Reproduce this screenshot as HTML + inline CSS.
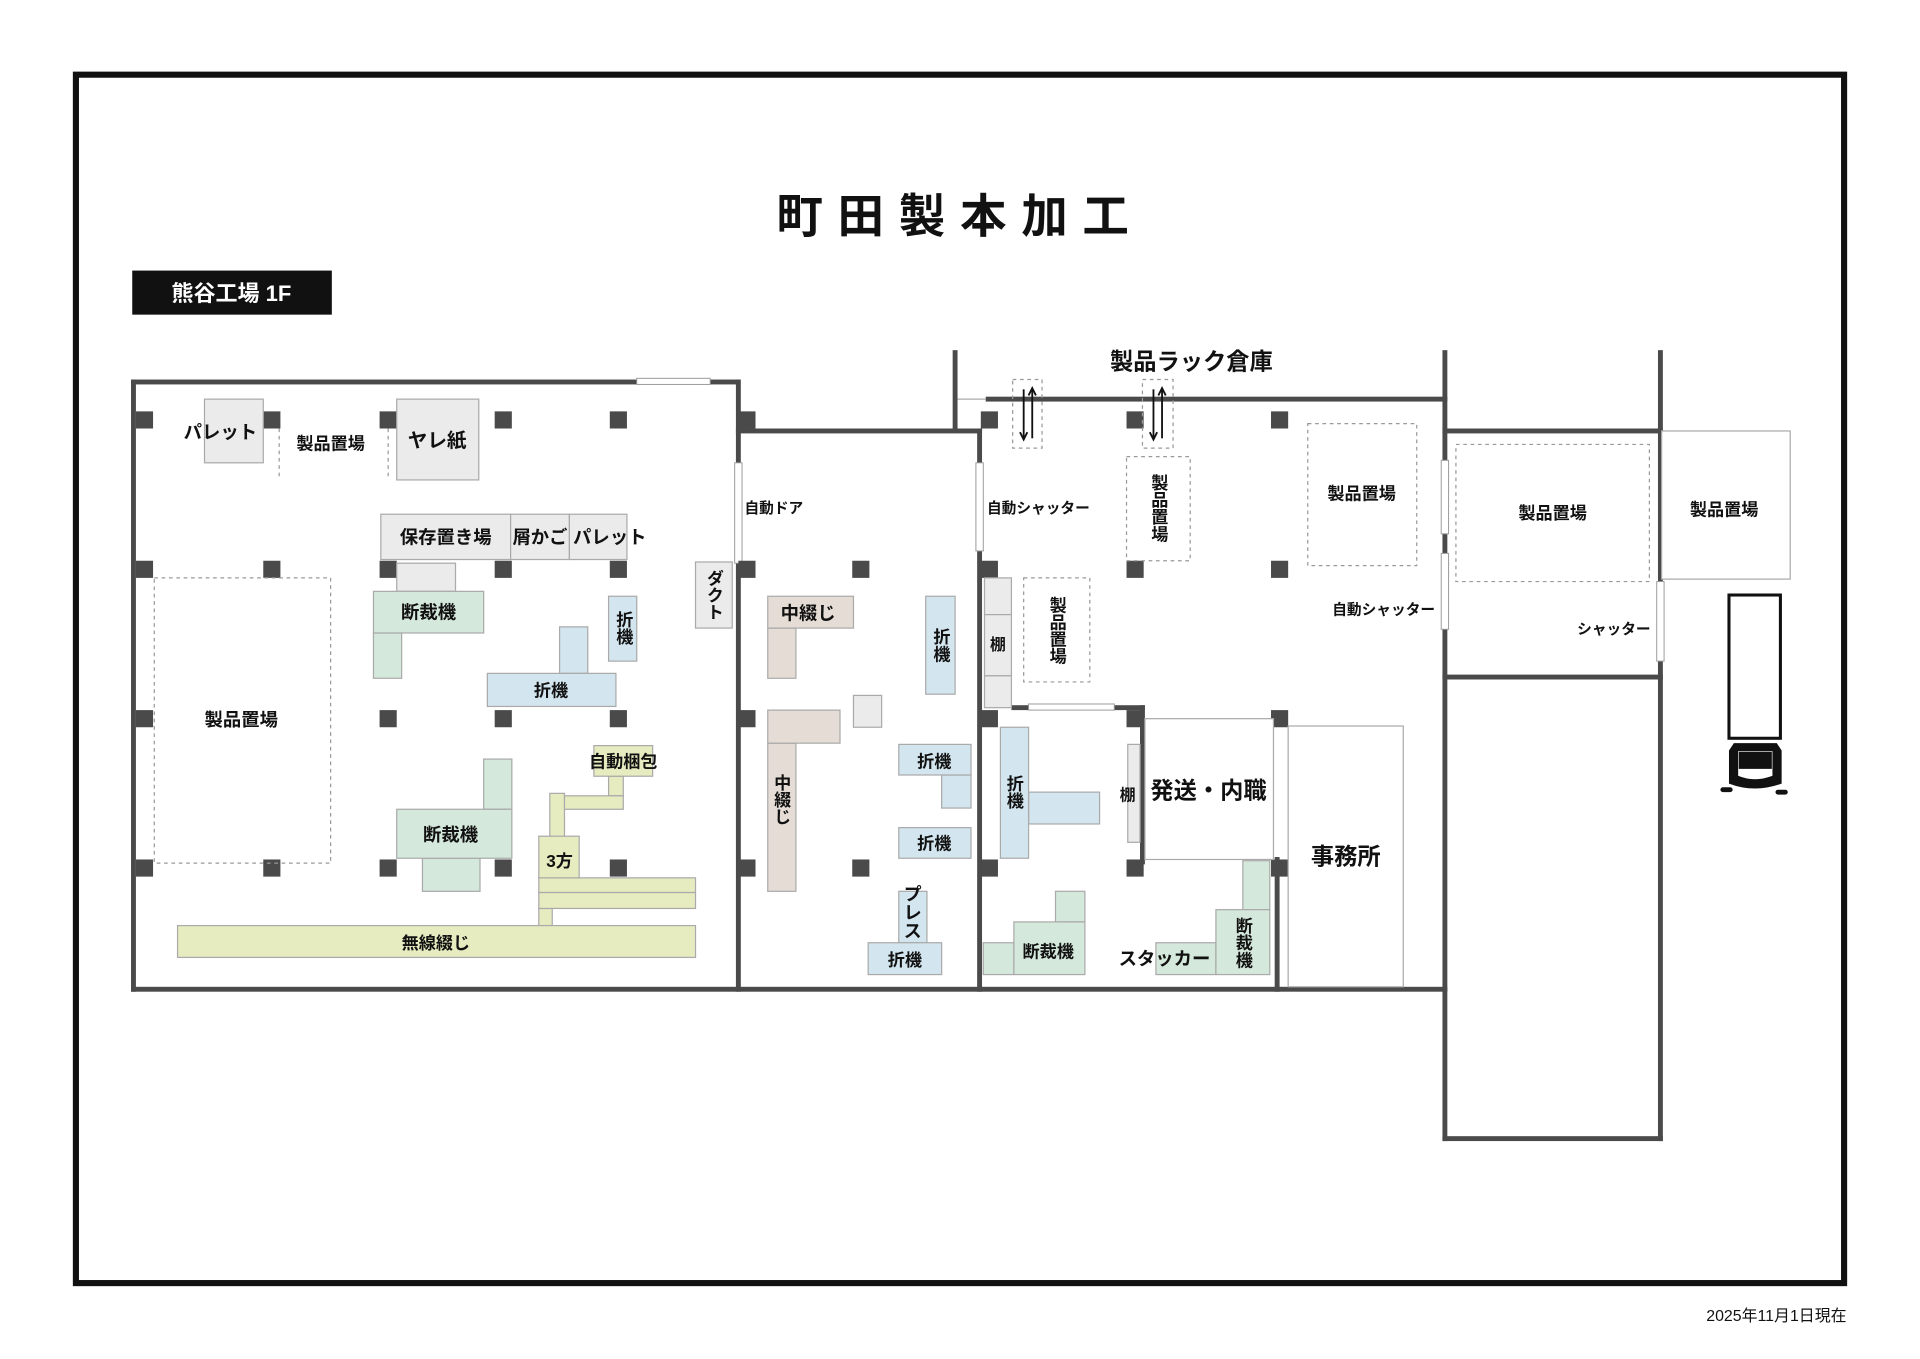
<!DOCTYPE html>
<html><head><meta charset="utf-8"><style>
html,body{margin:0;padding:0;background:#fff}
svg{display:block}
text{font-family:"Liberation Sans","Noto Sans CJK JP",sans-serif;font-weight:bold;fill:#111}
.w{fill:#4a4a4a}
.g{fill:#ebebeb;stroke:#aaa;stroke-width:1}
.gr{fill:#d5e8dc;stroke:#aaa;stroke-width:1}
.bl{fill:#d3e6ef;stroke:#aaa;stroke-width:1}
.be{fill:#e5ddd5;stroke:#aaa;stroke-width:1}
.ye{fill:#e6ecc0;stroke:#aaa;stroke-width:1}
.d{fill:none;stroke:#999;stroke-width:1;stroke-dasharray:3 3}
.v{writing-mode:vertical-rl;text-anchor:middle}
</style></head><body>
<svg width="1920" height="1359" viewBox="0 0 1568 1110" preserveAspectRatio="none">
<rect x="0" y="0" width="1568" height="1110" fill="#fff"/>
<rect x="62" y="61" width="1444" height="987" fill="none" stroke="#111" stroke-width="5"/>
<text x="784" y="190" font-size="38" text-anchor="middle" letter-spacing="12">町田製本加工</text>
<rect x="108" y="221" width="163" height="36" fill="#111"/>
<text x="189" y="246" font-size="18" text-anchor="middle" style="fill:#fff">熊谷工場 1F</text>
<text x="1508" y="1079" font-size="13" text-anchor="end" style="font-weight:normal">2025年11月1日現在</text>

<g class="w">
<rect x="107" y="310" width="497" height="4"/>
<rect x="107" y="310" width="4" height="500"/>
<rect x="107" y="806" width="1075" height="4"/>
<rect x="601" y="310" width="4" height="500"/>
<rect x="601" y="350" width="201" height="4"/>
<rect x="798" y="350" width="4" height="460"/>
<rect x="778" y="286" width="4" height="66"/>
<rect x="805" y="324" width="377" height="4"/>
<rect x="1178" y="286" width="4" height="646"/>
<rect x="1354" y="286" width="4" height="646"/>
<rect x="1178" y="350" width="180" height="4"/>
<rect x="1178" y="551" width="180" height="4"/>
<rect x="1178" y="928" width="180" height="4"/>
<rect x="826" y="576" width="109" height="4"/>
<rect x="931" y="576" width="4" height="130"/>
<rect x="1041" y="700" width="4" height="110"/>
</g>
<g fill="#fff" stroke="#999" stroke-width="0.8">
<rect x="520" y="309" width="60" height="5"/>
<rect x="600" y="378" width="6" height="82"/>
<rect x="797" y="378" width="6" height="72"/>
<rect x="840" y="575" width="70" height="5"/>
<rect x="1177" y="376" width="6" height="60"/>
<rect x="1177" y="452" width="6" height="62"/>
<rect x="1353" y="475" width="6" height="65"/>
</g>
<line x1="782" y1="326" x2="805" y2="326" stroke="#aaa" stroke-width="1"/>
<g class="w">
<rect x="111" y="336" width="14" height="14"/><rect x="215" y="336" width="14" height="14"/><rect x="310" y="336" width="14" height="14"/><rect x="404" y="336" width="14" height="14"/><rect x="498" y="336" width="14" height="14"/><rect x="603" y="336" width="14" height="14"/>
<rect x="111" y="458" width="14" height="14"/><rect x="215" y="458" width="14" height="14"/><rect x="310" y="458" width="14" height="14"/><rect x="404" y="458" width="14" height="14"/><rect x="498" y="458" width="14" height="14"/><rect x="603" y="458" width="14" height="14"/>
<rect x="111" y="580" width="14" height="14"/><rect x="310" y="580" width="14" height="14"/><rect x="404" y="580" width="14" height="14"/><rect x="498" y="580" width="14" height="14"/><rect x="603" y="580" width="14" height="14"/>
<rect x="111" y="702" width="14" height="14"/><rect x="215" y="702" width="14" height="14"/><rect x="310" y="702" width="14" height="14"/><rect x="404" y="702" width="14" height="14"/><rect x="498" y="702" width="14" height="14"/><rect x="603" y="702" width="14" height="14"/>
<rect x="696" y="458" width="14" height="14"/><rect x="696" y="702" width="14" height="14"/>
<rect x="801" y="336" width="14" height="14"/><rect x="920" y="336" width="14" height="14"/><rect x="1038" y="336" width="14" height="14"/>
<rect x="801" y="458" width="14" height="14"/><rect x="920" y="458" width="14" height="14"/><rect x="1038" y="458" width="14" height="14"/>
<rect x="801" y="580" width="14" height="14"/><rect x="920" y="580" width="14" height="14"/><rect x="1038" y="580" width="14" height="14"/>
<rect x="801" y="702" width="14" height="14"/><rect x="920" y="702" width="14" height="14"/><rect x="1038" y="702" width="14" height="14"/>
</g>

<rect class="g" x="167" y="326" width="48" height="52"/>
<text x="180" y="358" font-size="15" text-anchor="middle">パレット</text>
<line class="d" x1="228" y1="350" x2="228" y2="390"/><line class="d" x1="317" y1="350" x2="317" y2="390"/>
<text x="270" y="367" font-size="14" text-anchor="middle">製品置場</text>
<rect class="g" x="324" y="326" width="67" height="66"/>
<text x="357" y="365" font-size="16" text-anchor="middle">ヤレ紙</text>
<rect class="g" x="311" y="420" width="106" height="37"/><rect class="g" x="417" y="420" width="48" height="37"/><rect class="g" x="465" y="420" width="47" height="37"/>
<text x="364" y="444" font-size="15" text-anchor="middle">保存置き場</text>
<text x="441" y="444" font-size="15" text-anchor="middle">屑かご</text>
<text x="498" y="444" font-size="15" text-anchor="middle">パレット</text>
<rect class="g" x="324" y="460" width="48" height="23"/>
<rect class="gr" x="305" y="517" width="23" height="37"/>
<rect class="gr" x="305" y="483" width="90" height="34"/>
<text x="350" y="505" font-size="15" text-anchor="middle">断裁機</text>
<rect class="bl" x="497" y="487" width="23" height="53"/>
<text x="509" y="513" font-size="14" class="v">折機</text>
<rect class="bl" x="457" y="512" width="23" height="38"/>
<rect class="bl" x="398" y="550" width="105" height="27"/>
<text x="450" y="569" font-size="14" text-anchor="middle">折機</text>
<rect class="d" x="126" y="472" width="144" height="233"/>
<text x="197" y="593" font-size="15" text-anchor="middle">製品置場</text>
<rect class="ye" x="497" y="634" width="12" height="16"/>
<rect class="ye" x="449" y="648" width="12" height="42"/>
<rect class="ye" x="461" y="650" width="48" height="11"/>
<rect class="ye" x="485" y="609" width="48" height="25"/>
<text x="509" y="627" font-size="14" text-anchor="middle">自動梱包</text>
<rect class="ye" x="440" y="742" width="11" height="14"/>
<rect class="ye" x="440" y="717" width="128" height="12"/>
<rect class="ye" x="440" y="729" width="128" height="13"/>
<rect class="ye" x="440" y="683" width="33" height="34"/>
<text x="457" y="708" font-size="14" text-anchor="middle">3方</text>
<rect class="ye" x="145" y="756" width="423" height="26"/>
<text x="356" y="775" font-size="14" text-anchor="middle">無線綴じ</text>
<rect class="gr" x="395" y="620" width="23" height="41"/>
<rect class="gr" x="345" y="701" width="47" height="27"/>
<rect class="gr" x="324" y="661" width="94" height="40"/>
<text x="368" y="687" font-size="15" text-anchor="middle">断裁機</text>
<rect class="g" x="568" y="459" width="30" height="54"/>
<text x="583" y="486" font-size="14" class="v">ダクト</text>

<text x="632" y="419" font-size="12" text-anchor="middle">自動ドア</text>
<rect class="be" x="627" y="513" width="23" height="41"/>
<rect class="be" x="627" y="487" width="70" height="26"/>
<text x="660" y="506" font-size="15" text-anchor="middle">中綴じ</text>
<rect class="bl" x="756" y="487" width="24" height="80"/>
<text x="768" y="527" font-size="14" class="v">折機</text>
<rect class="g" x="697" y="568" width="23" height="26"/>
<rect class="be" x="627" y="607" width="23" height="121"/>
<rect class="be" x="627" y="580" width="59" height="27"/>
<text x="638" y="653" font-size="14" class="v">中綴じ</text>
<rect class="bl" x="769" y="633" width="24" height="27"/>
<rect class="bl" x="734" y="608" width="59" height="25"/>
<text x="763" y="627" font-size="14" text-anchor="middle">折機</text>
<rect class="bl" x="734" y="676" width="59" height="25"/>
<text x="763" y="694" font-size="14" text-anchor="middle">折機</text>
<rect class="bl" x="734" y="728" width="23" height="42"/>
<text x="745" y="745" font-size="15" class="v">プレス</text>
<rect class="bl" x="709" y="770" width="60" height="26"/>
<text x="739" y="789" font-size="14" text-anchor="middle">折機</text>

<text x="973" y="302" font-size="19" text-anchor="middle">製品ラック倉庫</text>
<rect class="d" x="827" y="310" width="24" height="56"/>
<rect class="d" x="933" y="310" width="25" height="56"/>
<g stroke="#111" stroke-width="1.5" fill="none">
<line x1="836" y1="318" x2="836" y2="358"/><path d="M833 353 L836 359 L839 353"/>
<line x1="843" y1="318" x2="843" y2="358"/><path d="M840 323 L843 317 L846 323"/>
<line x1="942" y1="318" x2="942" y2="358"/><path d="M939 353 L942 359 L945 353"/>
<line x1="949" y1="318" x2="949" y2="358"/><path d="M946 323 L949 317 L952 323"/>
</g>
<text x="848" y="419" font-size="12" text-anchor="middle">自動シャッター</text>
<rect class="d" x="920" y="373" width="52" height="85"/>
<text x="946" y="415" font-size="14" class="v">製品置場</text>
<rect class="d" x="836" y="472" width="54" height="85"/>
<text x="863" y="515" font-size="14" class="v">製品置場</text>
<rect class="d" x="1068" y="346" width="89" height="116"/>
<text x="1112" y="408" font-size="14" text-anchor="middle">製品置場</text>
<text x="1130" y="502" font-size="12" text-anchor="middle">自動シャッター</text>
<rect class="g" x="804" y="472" width="22" height="30"/><rect class="g" x="804" y="502" width="22" height="50"/><rect class="g" x="804" y="552" width="22" height="26"/>
<text x="815" y="531" font-size="13" text-anchor="middle">棚</text>
<rect class="bl" x="840" y="647" width="58" height="26"/>
<rect class="bl" x="817" y="594" width="23" height="107"/>
<text x="828" y="647" font-size="14" class="v">折機</text>
<rect class="g" x="921" y="608" width="10" height="80"/>
<text x="921" y="654" font-size="13" text-anchor="middle">棚</text>
<rect x="935" y="587" width="105" height="115" fill="#fff" stroke="#aaa" stroke-width="1"/>
<text x="987" y="652" font-size="19" text-anchor="middle">発送・内職</text>
<rect x="1052" y="593" width="94" height="213" fill="#fff" stroke="#aaa" stroke-width="1"/>
<text x="1099" y="706" font-size="19" text-anchor="middle">事務所</text>
<rect class="gr" x="862" y="728" width="24" height="25"/>
<rect class="gr" x="803" y="770" width="25" height="26"/>
<rect class="gr" x="828" y="753" width="58" height="43"/>
<text x="856" y="782" font-size="14" text-anchor="middle">断裁機</text>
<rect class="gr" x="944" y="770" width="49" height="26"/>
<text x="951" y="788" font-size="15" text-anchor="middle">スタッカー</text>
<rect class="gr" x="1015" y="703" width="22" height="40"/>
<rect class="gr" x="993" y="743" width="44" height="53"/>
<text x="1015" y="770" font-size="14" class="v">断裁機</text>

<rect class="d" x="1189" y="363" width="158" height="112"/>
<text x="1268" y="424" font-size="14" text-anchor="middle">製品置場</text>
<text x="1318" y="518" font-size="12" text-anchor="middle">シャッター</text>
<rect x="1357" y="352" width="105" height="121" fill="#fff" stroke="#aaa" stroke-width="1"/>
<text x="1408" y="421" font-size="14" text-anchor="middle">製品置場</text>
<rect x="1412" y="486" width="42" height="117" fill="#fff" stroke="#111" stroke-width="2.5"/>
<path d="M1416 607 L1451 607 L1455 613 L1455 640 Q1433 648 1412 640 L1412 613 Z" fill="#111"/>
<path d="M1419 613 L1448 613 L1448 634 Q1433 640 1419 634 Z" fill="#fff" stroke="#111" stroke-width="1"/>
<path d="M1420 614 L1447 614 L1447 628 L1420 628 Z" fill="#111"/>
<rect x="1405" y="643" width="10" height="4" rx="2" fill="#111"/>
<rect x="1450" y="645" width="10" height="4" rx="2" fill="#111"/>
</svg>
</body></html>
